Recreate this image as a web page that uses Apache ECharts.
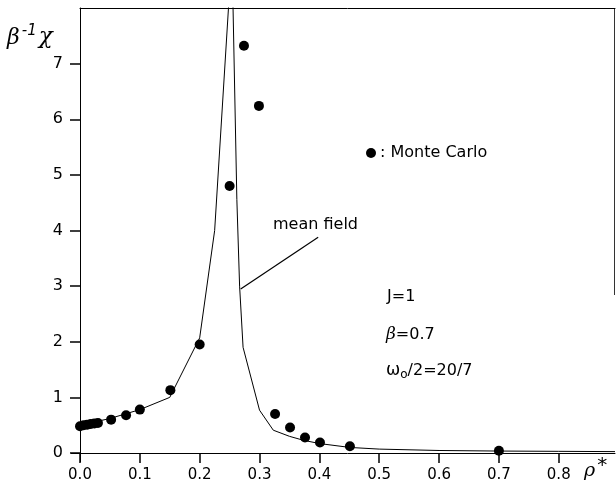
<!DOCTYPE html>
<html>
<head>
<meta charset="utf-8">
<script src="https://cdn.jsdelivr.net/npm/echarts@6/dist/echarts.min.js"></script>
<style>
html,body{margin:0;padding:0;background:#fff;}
#c{width:616px;height:490px;}
</style>
</head>
<body>
<div id="c"></div>
<script>
// Monte Carlo points
const rhoMC = [0.0, 0.006, 0.012, 0.018, 0.024, 0.03, 0.052, 0.077, 0.1, 0.151, 0.2, 0.25, 0.274, 0.299, 0.326, 0.351, 0.376, 0.401, 0.451, 0.70];
const chiMC = [0.48, 0.50, 0.51, 0.52, 0.53, 0.54, 0.60, 0.68, 0.78, 1.13, 1.95, 4.80, 7.32, 6.24, 0.70, 0.46, 0.28, 0.19, 0.12, 0.04];
// mean field curve
const rhoMF = [0.0, 0.05, 0.1, 0.15, 0.2, 0.225, 0.2539, 0.2621, 0.2667, 0.2725, 0.300, 0.323, 0.35, 0.373, 0.40, 0.451, 0.50, 0.60, 0.70, 0.80, 0.894];
const chiMF = [0.50, 0.62, 0.78, 1.00, 2.07, 4.00, 9.00, 4.56, 3.00, 1.90, 0.77, 0.41, 0.30, 0.23, 0.17, 0.10, 0.07, 0.045, 0.035, 0.03, 0.025];
// axis ticks
const xTickLabels = ['0.0','0.1','0.2','0.3','0.4','0.5','0.6','0.7','0.8'];
const yTickLabels = ['0','1','2','3','4','5','6','7'];

const FONT = 'DejaVu Sans';
const chart = echarts.init(document.getElementById('c'), null, {renderer: 'canvas'});

const mcData = rhoMC.map((r, i) => [r, chiMC[i]]);
const mfData = rhoMF.map((r, i) => [r, chiMF[i]]);
const xTickVals = xTickLabels.map(Number);
const yTickVals = yTickLabels.map(Number);

function xFmt(v) {
  const k = xTickVals.findIndex(t => Math.abs(t - v) < 1e-6);
  return k >= 0 ? xTickLabels[k] : '';
}
function yFmt(v) {
  const k = yTickVals.findIndex(t => Math.abs(t - v) < 1e-6);
  return k >= 0 ? yTickLabels[k] : '';
}

const option = {
  backgroundColor: '#fff',
  animation: false,
  grid: {left: 80, right: 1, top: 8, bottom: 37, containLabel: false},
  xAxis: [{
    type: 'value', min: 0, max: 0.894, interval: 0.1,
    axisLine: {show: true, onZero: false, lineStyle: {color: '#000', width: 1}},
    axisTick: {show: true, length: 10, inside: false, customValues: xTickVals, lineStyle: {color: '#000', width: 1.5}},
    axisLabel: {formatter: xFmt, customValues: xTickVals, color: '#000', fontFamily: FONT, fontSize: 15, margin: 15},
    splitLine: {show: false}
  }, {
    type: 'value', position: 'top', min: 0, max: 0.894,
    axisLine: {show: true, onZero: false, lineStyle: {color: '#000', width: 1}},
    axisTick: {show: false}, axisLabel: {show: false}, splitLine: {show: false}
  }],
  yAxis: [{
    type: 'value', min: 0, max: 8, interval: 1,
    axisLine: {show: true, onZero: false, lineStyle: {color: '#000', width: 1}},
    axisTick: {show: true, length: 10, customValues: yTickVals, lineStyle: {color: '#000', width: 1.5}},
    axisLabel: {formatter: yFmt, customValues: yTickVals, color: '#000', fontFamily: FONT, fontSize: 16, margin: 17},
    splitLine: {show: false}
  }],
  legend: {
    show: true, data: ['Monte Carlo'], left: 361, top: 140,
    icon: 'circle', itemWidth: 10, itemHeight: 10, itemGap: 4,
    formatter: ': {name}',
    itemStyle: {opacity: 1},
    textStyle: {color: '#000', fontFamily: FONT, fontSize: 16, padding: [0,0,0,-1]}
  },
  series: [{
    name: 'mean field', type: 'line', data: mfData, symbol: 'none', clip: true,
    lineStyle: {color: '#000', width: 1},
    markLine: {
      silent: true, symbol: ['none', 'none'], label: {show: false},
      lineStyle: {color: '#000', width: 1.2, type: 'solid'},
      data: [[{coord: [0.2685, 2.95]}, {coord: [0.398, 3.88]}]]
    }
  }, {
    name: 'Monte Carlo', type: 'scatter', data: mcData, symbol: 'circle', symbolSize: 10,
    itemStyle: {color: '#000', opacity: 1}, z: 5
  }],
  graphic: [
    {type: 'line', shape: {x1: 614.5, y1: 8, x2: 614.5, y2: 295}, style: {stroke: '#333', lineWidth: 1}},
    {type: 'line', shape: {x1: 71, y1: 453.5, x2: 80, y2: 453.5}, style: {stroke: '#000', lineWidth: 1}},
    {type: 'line', shape: {x1: 80.5, y1: 453, x2: 80.5, y2: 462}, style: {stroke: '#000', lineWidth: 1}},
    {type: 'text', left: 7, top: 24, style: {
      text: '{b|β}{s|-1}{c|χ}',
      rich: {
        b: {fontFamily: 'DejaVu Serif', fontStyle: 'italic', fontSize: 22, fill: '#000', verticalAlign: 'bottom'},
        s: {fontFamily: FONT, fontStyle: 'italic', fontSize: 15, fill: '#000', verticalAlign: 'top', padding: [0,2,10,2]},
        c: {fontFamily: 'DejaVu Serif', fontStyle: 'italic', fontSize: 23, fill: '#000', verticalAlign: 'bottom'}
      }
    }},
    {type: 'text', left: 584, top: 456, style: {
      text: '{r|ρ}{s|*}',
      rich: {
        r: {fontFamily: 'DejaVu Serif', fontStyle: 'italic', fontSize: 19, fill: '#000'},
        s: {fontFamily: FONT, fontSize: 20, fill: '#000', verticalAlign: 'top', padding: [0,0,10,2]}
      }
    }},
    {type: 'text', left: 273, top: 217, style: {text: 'mean field', fontFamily: FONT, fontSize: 16, fill: '#000'}},
    {type: 'text', left: 387, top: 289, style: {text: 'J=1', fontFamily: FONT, fontSize: 16, fill: '#000'}},
    {type: 'text', left: 386, top: 326, style: {
      text: '{g|β}{t|=0.7}',
      rich: {g: {fontFamily: 'DejaVu Serif', fontStyle: 'italic', fontSize: 17, fill: '#000'}, t: {fontFamily: FONT, fontSize: 16, fill: '#000'}}
    }},
    {type: 'text', left: 386, top: 362, style: {
      text: '{w|ω}{o|o}{t|/2=20/7}',
      rich: {
        w: {fontFamily: FONT, fontSize: 17, fill: '#000'},
        o: {fontFamily: FONT, fontSize: 12, fill: '#000', verticalAlign: 'bottom', padding: [8,0,0,0]},
        t: {fontFamily: FONT, fontSize: 16, fill: '#000'}
      }
    }}
  ]
};
chart.setOption(option);
</script>
</body>
</html>
